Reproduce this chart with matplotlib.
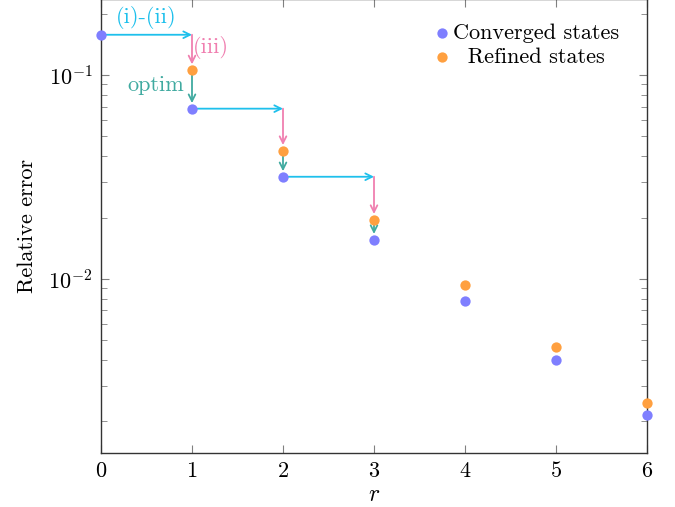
import numpy as np
import matplotlib
matplotlib.use("Agg")
import matplotlib.pyplot as plt

# data
r_conv = [0, 1, 2, 3, 4, 5, 6]
err_conv = [0.1576, 0.0684, 0.0317, 0.0156, 0.00783, 0.00402, 0.00216]
r_ref = [1, 2, 3, 4, 5, 6]
err_ref = [0.106, 0.0426, 0.01955, 0.00938, 0.00466, 0.00245]

c_conv = '#7f7fff'
c_ref = '#ffa040'
c_step = '#1ec0ec'
c_iii = '#f07fb0'
c_opt = '#40aaa0'

plt.rcParams['font.family'] = 'serif'
plt.rcParams['font.serif'] = ['cmr10']
plt.rcParams['mathtext.fontset'] = 'cm'
plt.rcParams['axes.formatter.use_mathtext'] = True
plt.rcParams['axes.unicode_minus'] = True

fig = plt.figure(figsize=(6.75, 5.07), dpi=100)
ax = fig.add_axes([101/675, 54/507, 546/675, 454/507])

ax.set_yscale('log')
ax.set_xlim(0, 6)
ax.set_ylim(1.40e-3, 0.236)

# arrows: (i)-(ii) step right, (iii) refine down, optim down
for i in range(3):
    x0, x1 = r_conv[i], r_conv[i + 1]
    y0 = err_conv[i]
    yr = err_ref[i]
    yc = err_conv[i + 1]
    ax.annotate('', xy=(x1, y0), xytext=(x0, y0),
                arrowprops=dict(arrowstyle='->', color=c_step, lw=1.3,
                                shrinkA=0, shrinkB=0, mutation_scale=12))
    ax.annotate('', xy=(x1, yr), xytext=(x1, y0),
                arrowprops=dict(arrowstyle='->', color=c_iii, lw=1.3,
                                shrinkA=0, shrinkB=4, mutation_scale=12))
    ax.annotate('', xy=(x1, yc), xytext=(x1, yr),
                arrowprops=dict(arrowstyle='->', color=c_opt, lw=1.3,
                                shrinkA=0, shrinkB=4, mutation_scale=12))

ax.scatter(r_conv, err_conv, s=55, color=c_conv, zorder=5, clip_on=False,
           linewidths=0, label='Converged states')
ax.scatter(r_ref, err_ref, s=55, color=c_ref, zorder=5, clip_on=False,
           linewidths=0, label='  Refined states')

ax.text(0.5, 0.191, '(i)-(ii)', color=c_step, fontsize=16, ha='center', va='center')
ax.text(1.01, 0.136, '(iii)', color=c_iii, fontsize=16, ha='left', va='center')
ax.text(0.91, 0.0887, 'optim', color=c_opt, fontsize=16, ha='right', va='center')

ax.set_xticks(r_conv)
ax.tick_params(which='both', direction='in', top=True, right=True, color='#808080',
               labelsize=16)
ax.tick_params(which='major', length=6, pad=6)
ax.tick_params(which='minor', length=4)
for s in ax.spines.values():
    s.set_color('#333333')
    s.set_linewidth(1.0)

ax.set_xlabel('$r$', fontsize=17, labelpad=2)
ax.set_ylabel('Relative error', fontsize=16, labelpad=8)

ax.legend(loc='upper right', bbox_to_anchor=(0.985, 0.99), frameon=False,
          fontsize=16, handletextpad=0.0, labelspacing=0.2, markerscale=1.0,
          handlelength=1.0)

fig.savefig('out.png', dpi=100)
